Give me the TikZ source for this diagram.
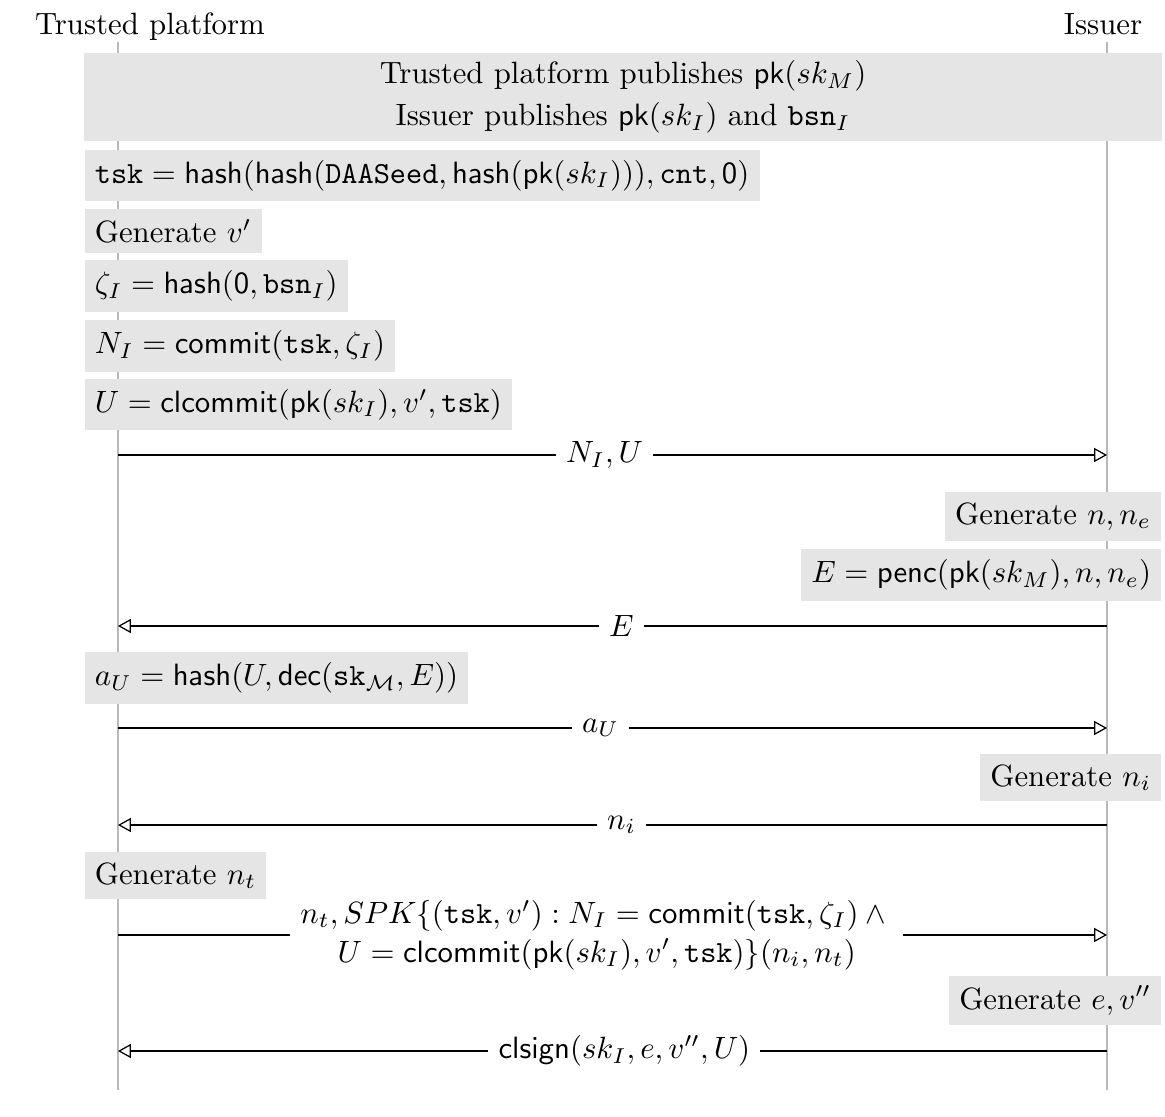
\documentclass[tikz,border=0pt]{standalone}
\usepackage{amsmath}
\usetikzlibrary{arrows.meta,positioning}
\newcommand{\fn}[1]{\mathsf{#1}}
\newcommand{\tw}[1]{\mathtt{#1}}

\begin{document}
\begin{tikzpicture}[
		x=0.3247pt, y=-0.3247pt,
		lifeline/.style={draw=gray!55, line width=0.6pt},
		act/.style={fill=gray!20, inner sep=3.33pt},
		msg/.style={line width=0.4pt, -{Triangle[open,length=4.2pt,width=4.6pt]}},
		lbl/.style={fill=white, align=center},
	]
		\useasboundingbox (0,0) rectangle (1165,1117);

		\node (tp) [anchor=base] at (150,35) {Trusted platform};
		\node (iss) [anchor=base] at (1103,35) {Issuer};
		\coordinate (tp line) at (118,42);
		\coordinate (iss line) at (1107,42);
		\coordinate (tp end) at (118,1090);
		\coordinate (iss end) at (1107,1090);
		\draw[lifeline] (tp line) -- (tp end);
		\draw[lifeline] (iss line) -- (iss end);

		\node (pub) [act, minimum width=350pt, minimum height=28pt, inner ysep=2.4pt, align=center] at (623,97)
			{Trusted platform publishes $\fn{pk}(sk_M)$\\[1.6pt] Issuer publishes $\fn{pk}(sk_I)$ and $\tw{bsn}_I$};

		\node (tsk) [act, anchor=west] at (84,175.5) {$\tw{tsk} = \fn{hash}(\fn{hash}(\tw{DAASeed}, \fn{hash}(\fn{pk}(sk_I))), \tw{cnt}, \fn{0})$};
		\node (gen v) [act, anchor=west] at (84,231) {Generate $v'$};
		\node (zeta) [act, anchor=west] at (84,286) {$\zeta_I = \fn{hash}(\fn{0}, \tw{bsn}_I)$};
		\node (nym) [act, anchor=west] at (84,346) {$N_I = \fn{commit}(\tw{tsk}, \zeta_I)$};
		\node (cmt) [act, anchor=west] at (84,404.5) {$U = \fn{clcommit}(\fn{pk}(sk_I), v', \tw{tsk})$};

		\coordinate (m1) at (0,455);
		\draw[msg] (tp line|-m1) -- (iss line|-m1) node[lbl, pos=0.492] {$N_I, U$};

		\node (gen n) [act, anchor=east] at (1162,516.5) {Generate $n, n_e$};
		\node (enc) [act, anchor=east] at (1162,575) {$E = \fn{penc}(\fn{pk}(sk_M), n, n_e)$};

		\coordinate (m2) at (0,626);
		\draw[msg] (iss line|-m2) -- (tp line|-m2) node[lbl, pos=0.491] {$E$};

		\node (au) [act, anchor=west] at (84,678) {$a_U = \fn{hash}(U, \fn{dec}(\tw{sk}_{\mathcal{M}}, E))$};

		\coordinate (m3) at (0,728);
		\draw[msg] (tp line|-m3) -- (iss line|-m3) node[lbl, pos=0.488] {$a_U$};

		\node (gen ni) [act, anchor=east] at (1162,777.5) {Generate $n_i$};

		\coordinate (m4) at (0,825);
		\draw[msg] (iss line|-m4) -- (tp line|-m4) node[lbl, pos=0.491] {$n_i$};

		\node (gen nt) [act, anchor=west] at (84,875.5) {Generate $n_t$};

		\coordinate (m5) at (0,935);
		\draw[msg] (tp line|-m5) -- (iss line|-m5) node[lbl, pos=0.484]
			{$n_t, SPK\{(\tw{tsk}, v') : N_I = \fn{commit}(\tw{tsk}, \zeta_I) \wedge{}$\\[0.6pt]
			 $U = \fn{clcommit}(\fn{pk}(sk_I), v', \tw{tsk})\}(n_i, n_t)$};

		\node (gen e) [act, anchor=east] at (1162,1000.5) {Generate $e, v''$};

		\coordinate (m6) at (0,1051);
		\draw[msg] (iss line|-m6) -- (tp line|-m6) node[lbl, pos=0.488] {$\fn{clsign}(sk_I, e, v'', U)$};
	\end{tikzpicture}
\end{document}
